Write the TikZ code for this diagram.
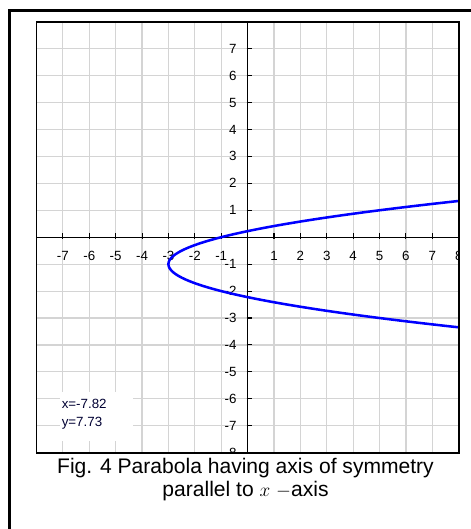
\documentclass[tikz,border=0pt]{standalone}
\usepackage{fontspec}
\setmainfont{Liberation Sans}
\begin{document}
\begin{tikzpicture}[x=0.75pt,y=-0.75pt,
  gridln/.style={draw=black!17,line width=0.85pt},
  axisln/.style={draw=black,line width=0.8pt},
  tickln/.style={draw=black,line width=0.8pt},
  xlab/.style={font=\fontsize{10}{12}\selectfont,inner sep=0pt,anchor=center},
  ylab/.style={font=\fontsize{10}{12}\selectfont,inner sep=0pt,anchor=east},
  coordtxt/.style={font=\fontsize{10}{12}\selectfont,text=black!80!blue,inner sep=0pt,anchor=base west},
  curveln/.style={draw=blue,line width=1.9pt},
  frameln/.style={draw=black,line width=1.9pt},
  boxln/.style={draw=black,line width=1.2pt}]
\useasboundingbox (0,0) rectangle (471,529);
\def\ox{247.6}\def\oy{237.2}\def\ux{26.39}\def\uy{26.94}
% outer frame (left and top edges visible)
\draw[frameln] (9.7,529) -- (9.7,10.5) -- (471,10.5);
\begin{scope}
  \clip (36.5,21.7) rectangle (458.7,452.7);
  \foreach \i in {-7,...,7}
    \draw[gridln] ({\ox+\i*\ux},21.7) -- ({\ox+\i*\ux},452.7);
  \foreach \j in {-7,...,7}
    \draw[gridln] (36.5,{\oy-\j*\uy}) -- (458.7,{\oy-\j*\uy});
  % axes
  \draw[axisln] (36.5,\oy) -- (458.7,\oy);
  \draw[axisln] (\ox,21.7) -- (\ox,452.7);
  % ticks
  \foreach \i in {-7,...,-1,1,2,...,8}
    \draw[tickln] ({\ox+\i*\ux},{\oy-4}) -- ({\ox+\i*\ux},{\oy+1.5});
  \foreach \j in {-8,...,-1,1,2,...,7}
    \draw[tickln] ({\ox-1},{\oy-\j*\uy}) -- ({\ox+4},{\oy-\j*\uy});
  % labels
  \foreach \i in {-7,-6,...,-1,1,2,...,8}
    \node[xlab] (xl\i) at ({\ox+\i*\ux},256.3) {\i};
  \foreach \j in {-8,-7,...,-1,1,2,...,7}
    \node[ylab] (yl\j) at (236.8,{\oy-\j*\uy}) {\j};
  % parabola x = 2(y+1)^2 - 3
  \draw[curveln] plot[domain=-2.4:2.4,samples=120,smooth]
    ({\ox+(2*\x*\x-3)*\ux},{\oy-(\x-1)*\uy});
  % coordinate readout
  \fill[white] (60,392) rectangle (133,441);
  \node[coordtxt] (cx) at (61.5,408) {x=-7.82};
  \node[coordtxt] (cy) at (61.5,426.5) {y=7.73};
\end{scope}
\draw[boxln] (36.5,21.7) rectangle (458.7,452.7);
% caption
\node[font=\fontsize{15.8}{17.6}\selectfont,align=center,inner sep=0pt] (cap) at (245.5,479.5)
  {Fig. 4 Parabola having axis of symmetry\\parallel to $x$ $-$axis};
\end{tikzpicture}
\end{document}
